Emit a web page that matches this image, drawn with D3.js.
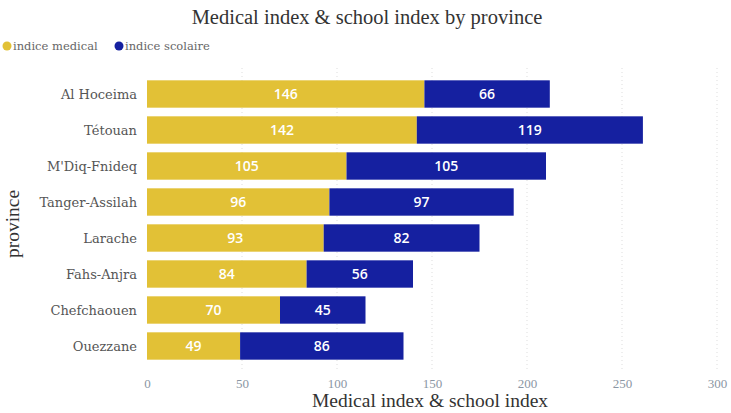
<!DOCTYPE html>
<html>
<head>
<meta charset="utf-8">
<script src="https://cdn.jsdelivr.net/npm/d3@7"></script>
<style>
  body { margin: 0; background: #fff; }
  svg { display: block; }
</style>
</head>
<body>
<svg id="chart"></svg>
<script>
const provinces = ['Al Hoceima', 'Tétouan', "M'Diq-Fnideq", 'Tanger-Assilah', 'Larache', 'Fahs-Anjra', 'Chefchaouen', 'Ouezzane'];
const medical = [146, 142, 105, 96, 93, 84, 70, 49];
const scolaire = [66, 119, 105, 97, 82, 56, 45, 86];
const seriesNames = ['indice medical', 'indice scolaire'];
const xTicks = [0, 50, 100, 150, 200, 250, 300];

const W = 731, H = 413;
const serif = 'Liberation Serif, Times New Roman, serif';
const slab = 'DejaVu Serif, serif';
const colors = ['#E2C136', '#1520A0'];

const svg = d3.select('#chart').attr('width', W).attr('height', H);

const x = d3.scaleLinear().domain([0, 300]).range([147, 717]);
const y = d3.scaleBand().domain(provinces).range([76, 364]).paddingInner(0.24).paddingOuter(0.12);

// grid
svg.append('g').selectAll('line')
  .data(xTicks.filter(d => d > 0))
  .enter().append('line')
  .attr('x1', d => x(d)).attr('x2', d => x(d))
  .attr('y1', 68).attr('y2', 370)
  .attr('stroke', '#ddd')
  .attr('stroke-dasharray', '1,3');

// title
svg.append('text')
  .attr('x', 367).attr('y', 24)
  .attr('text-anchor', 'middle')
  .style('font-family', serif).style('font-size', '20.5px').style('fill', '#333')
  .text('Medical index & school index by province');

// legend
const legend = svg.append('g');
const legendX = [7, 119];
seriesNames.forEach((name, i) => {
  legend.append('circle').attr('cx', legendX[i]).attr('cy', 46).attr('r', 4.5).attr('fill', colors[i]);
  legend.append('text').attr('x', legendX[i] + 6).attr('y', 50)
    .style('font-family', slab).style('font-size', '11.5px').style('fill', '#666')
    .text(name);
});

// bars
const stacked = provinces.map((p, i) => [
  { p, key: 0, x0: 0, x1: medical[i], v: medical[i] },
  { p, key: 1, x0: medical[i], x1: medical[i] + scolaire[i], v: scolaire[i] }
]).flat();

const bars = svg.append('g');
bars.selectAll('rect')
  .data(stacked)
  .enter().append('rect')
  .attr('x', d => x(d.x0))
  .attr('y', d => y(d.p))
  .attr('width', d => x(d.x1) - x(d.x0))
  .attr('height', y.bandwidth())
  .attr('fill', d => colors[d.key]);

bars.selectAll('text')
  .data(stacked)
  .enter().append('text')
  .attr('x', d => (x(d.x0) + x(d.x1)) / 2)
  .attr('y', d => y(d.p) + y.bandwidth() / 2 + 5)
  .attr('text-anchor', 'middle')
  .style('font-family', 'Open Sans, sans-serif').style('font-size', '14px').style('font-weight', '600')
  .style('fill', '#fff')
  .text(d => d.v);

// y axis labels
svg.append('g').selectAll('text')
  .data(provinces)
  .enter().append('text')
  .attr('x', 137)
  .attr('y', d => y(d) + y.bandwidth() / 2 + 5)
  .attr('text-anchor', 'end')
  .style('font-family', slab).style('font-size', '13px').style('fill', '#555')
  .text(d => d);

svg.append('text')
  .attr('transform', 'translate(19,224) rotate(-90)')
  .attr('text-anchor', 'middle')
  .style('font-family', serif).style('font-size', '19.5px').style('fill', '#333')
  .text('province');

// x axis
const xAxis = svg.append('g')
  .attr('transform', 'translate(0,371)')
  .call(d3.axisBottom(x).tickValues(xTicks).tickSize(0).tickPadding(8));
xAxis.select('.domain').remove();
xAxis.selectAll('text')
  .style('font-family', serif).style('font-size', '13px').style('fill', '#8a96a3');

svg.append('text')
  .attr('x', 430).attr('y', 407)
  .attr('text-anchor', 'middle')
  .style('font-family', serif).style('font-size', '19.5px').style('fill', '#333')
  .text('Medical index & school index');
</script>
</body>
</html>
